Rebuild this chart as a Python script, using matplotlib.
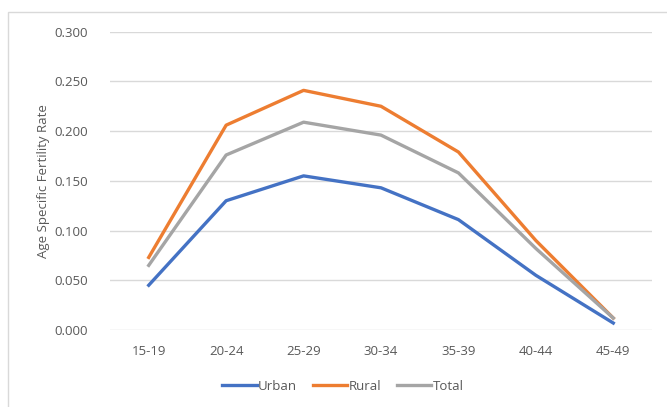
import matplotlib
matplotlib.use("Agg")
import matplotlib.pyplot as plt
from matplotlib.patches import Rectangle
import numpy as np

age_groups = ["15-19", "20-24", "25-29", "30-34", "35-39", "40-44", "45-49"]
urban = [0.045, 0.130, 0.155, 0.143, 0.111, 0.055, 0.007]
rural = [0.073, 0.206, 0.241, 0.225, 0.179, 0.090, 0.012]
total = [0.065, 0.176, 0.209, 0.196, 0.158, 0.082, 0.012]

plt.rcParams["font.family"] = ["Open Sans", "DejaVu Sans"]
text_color = "#595959"

fig = plt.figure(figsize=(6.67, 4.07), dpi=100)
# light frame round the chart area
fig.patches.append(Rectangle((8 / 667, -0.05), 1.1, (407 - 12) / 407 + 0.05,
                             transform=fig.transFigure, fill=False,
                             edgecolor="#d9d9d9", linewidth=1))
ax = fig.add_axes([110 / 667, 77 / 407, 542 / 667, 298.3 / 407])

x = np.arange(len(age_groups))
ax.plot(x, urban, color="#4472C4", linewidth=2.4, label="Urban")
ax.plot(x, rural, color="#ED7D31", linewidth=2.4, label="Rural")
ax.plot(x, total, color="#A5A5A5", linewidth=2.4, label="Total")

ax.set_xlim(-0.5, len(age_groups) - 0.5)
ax.set_ylim(0, 0.3)
ax.set_yticks(np.arange(0, 0.301, 0.05))
ax.set_yticklabels([f"{v:.3f}" for v in np.arange(0, 0.301, 0.05)])
ax.set_xticks(x)
ax.set_xticklabels(age_groups)
ax.tick_params(length=0, labelsize=9.5, labelcolor=text_color)
ax.tick_params(axis="y", pad=16)
ax.tick_params(axis="x", pad=11)
ax.grid(axis="y", color="#d9d9d9", linewidth=1)
ax.set_axisbelow(True)
for s in ax.spines.values():
    s.set_visible(False)

ax.set_ylabel("Age Specific Fertility Rate", fontsize=9.5, color=text_color, labelpad=3)

ax.legend(loc="center", bbox_to_anchor=(343 / 667, 21 / 407),
          bbox_transform=fig.transFigure, ncol=3, frameon=False,
          fontsize=9.5, labelcolor=text_color, handlelength=2.6,
          handletextpad=0.1, columnspacing=1.2)

fig.savefig("out.png", dpi=100)
